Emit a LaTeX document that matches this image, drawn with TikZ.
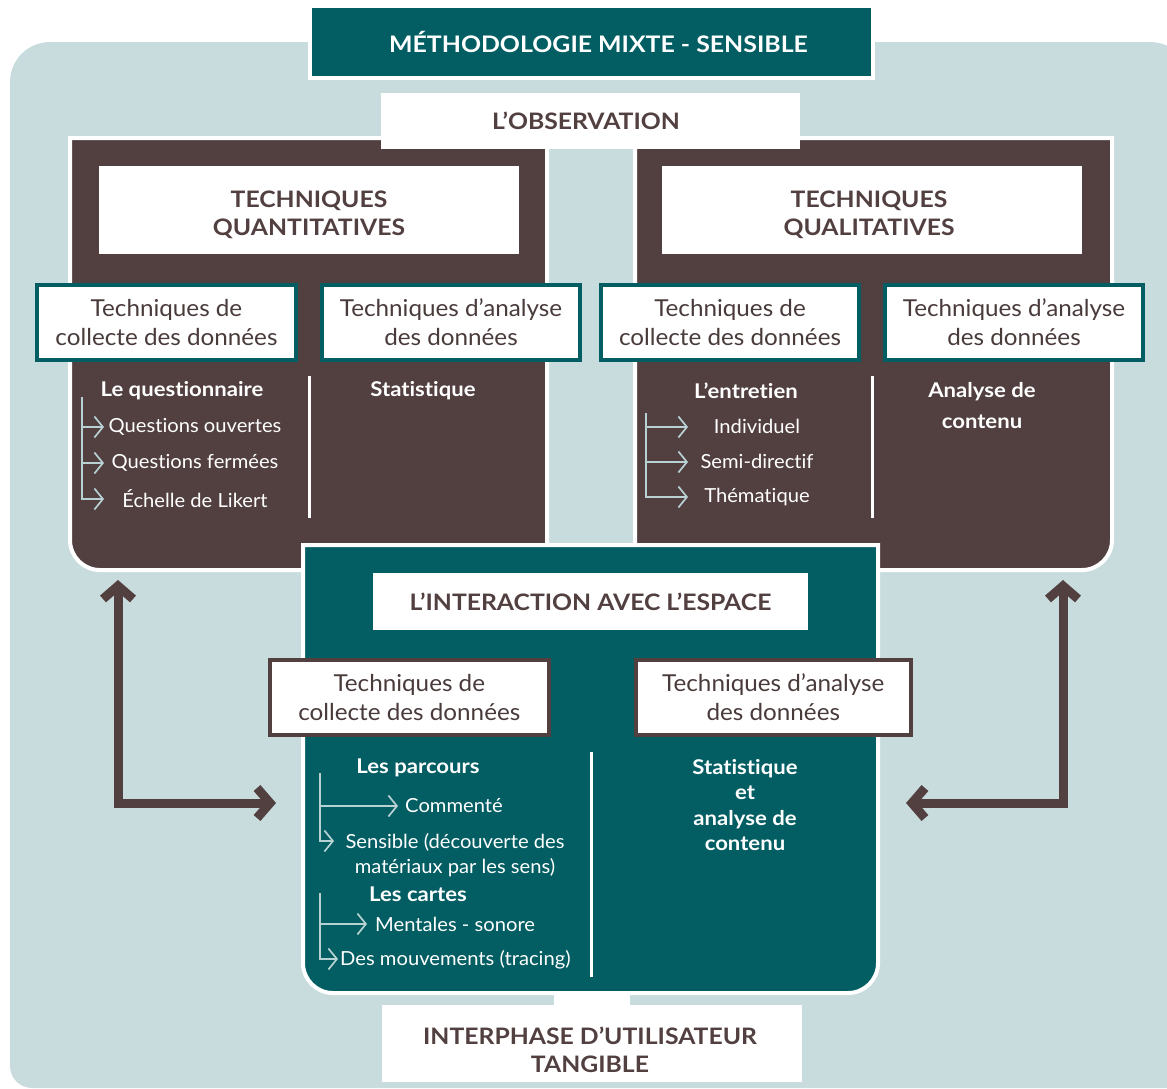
\documentclass[tikz,border=0pt]{standalone}
\usepackage{fontspec}
\setmainfont{Lato}[Ligatures=NoCommon, FakeStretch=1.04, BoldFeatures={FakeStretch=1.09}]
\usetikzlibrary{arrows.meta}
\definecolor{teal0}{HTML}{025E63}
\definecolor{brn}{HTML}{524041}
\definecolor{lblue}{HTML}{C9DCDD}
\definecolor{tline}{HTML}{B8D1D2}
\definecolor{txtb}{HTML}{4A3B3B}
\begin{document}
\begin{tikzpicture}[x=1pt,y=-1pt,
  panelb/.style={fill=brn, draw=white, line width=4pt},
  panelt/.style={fill=teal0, draw=white, line width=4pt},
  headfont/.style={font=\fontsize{22.7}{28.5}\selectfont\bfseries, text=brn},
  whitebox/.style={fill=white, inner sep=0pt, align=center, headfont},
  headtext/.style={inner sep=0pt, align=center, headfont},
  tealbox/.style={fill=white, draw=teal0, line width=4pt, inner sep=0pt, align=center,
    font=\fontsize{23.3}{29}\selectfont, text=txtb, minimum height=75pt},
  brnbox/.style={fill=white, draw=brn, line width=4pt, inner sep=0pt, align=center,
    font=\fontsize{23.3}{29}\selectfont, text=txtb, minimum height=75pt},
  itemb/.style={font=\fontsize{20.3}{25.3}\selectfont\bfseries, text=white, align=center, inner sep=0pt},
  iteml/.style={font=\fontsize{19.4}{25}\selectfont, text=white, align=center, inner sep=0pt},
  divider/.style={draw=white, line width=3pt},
  tree/.style={draw=tline, line width=1.7pt, -{Straight Barb[length=8.5pt,width=21pt]}},
  bigarrow/.style={draw=brn, line width=9pt,
    arrows={Straight Barb[length=13pt,width=30pt]-Straight Barb[length=13pt,width=30pt]}}
]
\useasboundingbox (0,0) rectangle (1167,1088);
\begin{scope}
\clip (0,0) rectangle (1167,1088);
% background
\fill[lblue] (10,1065) -- (10,82) arc[start angle=180,end angle=270,radius=40]
  -- (1150,42) arc[start angle=270,end angle=360,radius=40] -- (1190,1088)
  -- (32,1088) arc[start angle=90,end angle=180,radius=22] -- cycle;
\end{scope}

% title
\node[fill=teal0, draw=white, line width=4pt, minimum width=563pt, minimum height=72pt,
  inner sep=0pt, font=\fontsize{22.8}{26}\selectfont\bfseries, text=white] (title) at (591.5,42)
  {\hspace*{14pt}MÉTHODOLOGIE MIXTE - SENSIBLE};

% brown panels
\path[panelb] (70,138) -- (547,138) -- (547,570) -- (100,570)
  arc[start angle=90,end angle=180,radius=30] -- cycle;
\path[panelb] (635,138) -- (1112,138) -- (1112,540)
  arc[start angle=0,end angle=90,radius=30] -- (635,570) -- cycle;

% observation
\node[whitebox, minimum width=419pt, minimum height=56pt] (obs) at (590.5,121)
  {L’OBSERVATION\hspace*{9pt}};

% headings
\node[fill=white, minimum width=420pt, minimum height=88pt, inner sep=0pt] (quant) at (309,210) {};
\node[headtext] (quantt) at (309,215) {TECHNIQUES\\QUANTITATIVES};
\node[fill=white, minimum width=420pt, minimum height=88pt, inner sep=0pt] (qual) at (872,210) {};
\node[headtext] (qualt) at (869,215) {TECHNIQUES\\QUALITATIVES};

% sub boxes in brown panels
\node[tealbox, minimum width=259pt] (qcol) at (166.5,322.5) {Techniques de\\collecte des données};
\node[tealbox, minimum width=258pt] (qana) at (451,322.5) {Techniques d’analyse\\des données};
\node[tealbox, minimum width=258pt] (lcol) at (730,322.5) {Techniques de\\collecte des données};
\node[tealbox, minimum width=258pt] (lana) at (1014,322.5) {Techniques d’analyse\\des données};

% left panel content
\draw[divider] (309,376) -- (309,518);
\node[itemb] (quest) at (182,391) {Le questionnaire};
\coordinate (qt0) at (82,397);
\coordinate (qt1) at (104,427);
\coordinate (qt2) at (104,463);
\coordinate (qt3) at (104,499);
\draw[tree] (qt0) |- (qt3);
\draw[tree] (qt0 |- qt1) -- (qt1);
\draw[tree] (qt0 |- qt2) -- (qt2);
\node[iteml] (qo) at (195,427) {Questions ouvertes};
\node[iteml] (qf) at (195,463) {Questions fermées};
\node[iteml] (ql) at (195,499) {Échelle de Likert};
\node[itemb] (stat1) at (423,391) {Statistique};

% right panel content
\draw[divider] (872,376) -- (872,518);
\node[itemb] (entr) at (746,391) {L’entretien};
\coordinate (et0) at (646,413);
\coordinate (et1) at (688,427);
\coordinate (et2) at (688,462);
\coordinate (et3) at (688,497);
\draw[tree] (et0) |- (et3);
\draw[tree] (et0 |- et1) -- (et1);
\draw[tree] (et0 |- et2) -- (et2);
\node[iteml] (ind) at (757,426) {Individuel};
\node[iteml] (semi) at (757,461) {Semi-directif};
\node[iteml] (them) at (757,497) {Thématique};
\node[itemb, font=\fontsize{20.3}{31}\selectfont\bfseries] (anac) at (982,406) {Analyse de\\contenu};

% teal panel
\path[panelt] (303,545) -- (878,545) -- (878,963)
  arc[start angle=0,end angle=90,radius=30] -- (333,993)
  arc[start angle=90,end angle=180,radius=30] -- cycle;
\node[whitebox, minimum width=435pt, minimum height=57pt] (inter) at (590.5,601.5)
  {L’INTERACTION AVEC L’ESPACE};
\node[brnbox, minimum width=279.5pt] (icol) at (409.3,697.5) {Techniques de\\collecte des données};
\node[brnbox, minimum width=275.5pt] (iana) at (773.3,697.5) {Techniques d’analyse\\des données};

\draw[divider] (591,752) -- (591,977);
\node[itemb] (parc) at (418,768) {Les parcours};
\coordinate (pt0) at (320,773);
\coordinate (pt1) at (398,806);
\coordinate (pt2) at (334,841);
\draw[tree] (pt0) |- (pt2);
\draw[tree] (pt0 |- pt1) -- (pt1);
\node[iteml, anchor=west] (comm) at (405,806) {Commenté};
\node[iteml] (sens) at (455,855.5) {Sensible (découverte des\\matériaux par les sens)};
\node[itemb] (cart) at (418,894) {Les cartes};
\coordinate (ct0) at (320,893);
\coordinate (ct1) at (367,924);
\coordinate (ct2) at (338,959);
\draw[tree] (ct0) |- (ct2);
\draw[tree] (ct0 |- ct1) -- (ct1);
\node[iteml, anchor=west] (ment) at (375,924) {Mentales - sonore};
\node[iteml, anchor=west] (mouv) at (340,960) {Des mouvements (tracing)};
\node[itemb] (stat2) at (745,805) {Statistique\\et\\analyse de\\contenu};

% bottom
\fill[white] (554,992) rectangle (630,1006);
\node[fill=white, minimum width=420pt, minimum height=77pt, inner sep=0pt] (tang) at (592,1043.5) {};
\node[headtext] (tangt) at (590,1050) {INTERPHASE D’UTILISATEUR\\TANGIBLE};

% big arrows
\coordinate (la1) at (118,580);
\coordinate (la2) at (276,803);
\coordinate (ra1) at (1063,580);
\coordinate (ra2) at (906,803);
\draw[bigarrow] (la1) |- (la2);
\draw[bigarrow] (ra1) |- (ra2);
\end{tikzpicture}
\end{document}
